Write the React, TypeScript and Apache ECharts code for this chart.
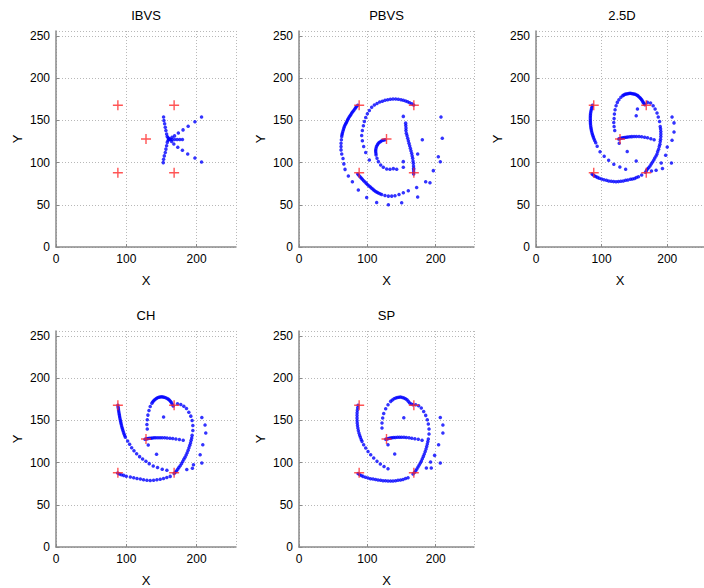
import React, { useEffect, useRef } from "react";
import * as echarts from "echarts";

const panelTitles = ["IBVS", "PBVS", "2.5D", "CH", "SP"];
const xTicks = [0, 100, 200];
const yTicks = [0, 50, 100, 150, 200, 250];

// target positions (red crosses)
const targetPts = [
  [88, 168], [168, 168], [128, 128], [88, 88], [168, 88],
];

const ibvsPts = [
  [153, 154], [153.5, 150], [154.5, 146], [155.4, 142], [156.3, 138], [157.3, 134], [158.2, 131], [159.5, 129.5],
  [152.5, 100], [153, 104], [154, 108], [155.4, 112], [156.3, 116], [157.3, 120], [158.2, 124], [159.5, 126.5],
  [207, 154], [197.6, 148.4], [188, 143], [180.7, 138.8], [174, 135], [168.6, 131.7], [165, 130],
  [207, 100.7], [197.6, 105.5], [187.3, 110.2], [179.8, 114.6], [173.2, 118.2], [167.6, 122], [164.5, 125],
  [179.8, 127.4], [176, 127.4], [172.3, 127.4], [168.6, 127.4], [164.8, 127.4], [162.5, 127.8], [161, 128.4], [160.5, 127.5],
];

const pbvsPts = [
  // left arc
  [86, 168], [84, 166.5], [82.9, 165.1], [81.5, 163.5], [80, 161.9], [78.5, 160.3], [77.1, 158.7], [75.9, 157.1],
  [74.7, 155.6], [73.4, 154], [72.2, 152.4], [71.2, 150.8], [70.3, 149.2], [69.3, 147.6], [68.3, 146], [67.3, 144.5],
  [66.4, 142.9], [65.6, 140.9], [64.9, 138.9], [64.1, 136.9], [63.4, 134.9], [62.9, 133], [62.5, 131], [62, 127],
  [61.5, 123], [61.5, 119], [61.5, 115.1], [62.5, 110.3], [64.4, 104.8], [65.6, 98.5], [67.3, 92], [72.2, 84.1],
  [78.1, 77.4], [86.8, 67.5], [99, 58.7], [113.6, 52.8], [130.7, 50],
  // top arc
  [167.7, 168.3], [165, 169.8], [161.9, 171], [159, 172.2], [156, 173], [152.6, 174], [149.2, 174.6], [145.3, 175.2],
  [141.4, 175.4], [137.5, 175.4], [133.6, 175], [129.7, 174.4], [125.8, 173.8], [121.9, 172.8], [118, 171.8],
  [114.1, 170.2], [110.2, 168.3], [106.3, 165.5], [102.9, 161.9], [100, 158], [97.6, 153.6], [95.6, 148.8],
  [94.2, 143.7], [92.7, 138], [91.7, 132.1], [92.7, 125.8], [94.6, 119], [97.6, 111.9], [102.9, 103.2],
  // centre spiral
  [125.8, 127], [123.4, 126.5], [121, 125.8], [119, 124.8], [117.1, 123.8], [115.6, 122.4], [114.6, 121], [113.3, 119],
  [112.7, 117], [112.2, 115], [112.2, 113.1], [112.5, 111], [112.7, 109.1], [114.1, 105.2], [116.1, 101.2],
  [119.5, 97.2], [123.4, 94.4], [128.3, 92.5], [133.1, 92.1], [138, 92.9], [142.9, 92.1],
  // right branch
  [167.7, 86.5], [167.7, 89], [167.7, 91.5], [167.7, 93.3], [167.5, 96], [167.3, 99.2], [166.8, 102], [166.3, 105.2],
  [165.5, 108], [164.8, 111.1], [163.8, 114], [162.9, 117], [161.9, 120], [160.9, 123], [160, 126], [159, 129],
  [158, 132], [157, 134.9], [156.5, 138], [156.5, 140.9], [156.2, 144], [156, 146.8], [152.6, 154.8],
  // bottom arc
  [85.9, 86.5], [87.5, 85], [89.3, 83.3], [91, 81.7], [92.7, 80.2], [94.6, 78.6], [96.6, 77], [98.5, 75.4],
  [100.5, 73.8], [102.5, 72.4], [104.4, 71], [106.3, 69.6], [108.3, 68.3], [110.2, 67], [112.2, 65.9], [114.2, 64.9],
  [116.1, 63.9], [118.5, 63], [121, 62.3], [125.8, 61.1], [130.7, 60.3], [135.6, 60.3], [140.4, 60.7], [146.3, 62.3],
  [152.6, 64.3], [159.9, 66.7], [172.1, 70.6], [185.3, 77.4], [191.6, 76.2], [196.5, 90.5],
  // isolated
  [207.7, 154], [209.6, 129], [203.8, 107], [206.7, 101], [180.4, 127], [173.6, 110.3], [152.6, 101.2],
  [152.6, 94.4], [173.6, 59.3], [150.2, 52.4],
];

const d25Pts = [
  [86, 168], [85.3, 166], [84.6, 164], [84, 162], [83.5, 160], [83.1, 158], [82.9, 156], [82.8, 154], [82.8, 152],
  [82.8, 150], [82.9, 148], [83, 146], [83.3, 144], [83.6, 142], [84, 140], [84.5, 138], [85.1, 136], [85.8, 134],
  [86.6, 132], [87.5, 130], [88.5, 128], [89.6, 126], [91, 123.5],
  [93.2, 119.5], [97.6, 113], [103.9, 107.6], [110.7, 102.8], [118.6, 98.1], [127.8, 94.9], [136.6, 92.1],
  [183, 91], [192.7, 93], [206.4, 99.6],
  [165.9, 168.7], [164.6, 170.1], [163.4, 171.4], [162.2, 173], [161, 174.6], [159.8, 175.8], [158.5, 177],
  [156.8, 178.2], [155.1, 179.4], [153.2, 180.2], [151.2, 181], [149.3, 181.4], [147.3, 181.7], [145.3, 181.9],
  [143.4, 182.1], [141.5, 181.9], [139.5, 181.7], [137.5, 181.4], [135.6, 181], [133.9, 180.2], [132.2, 179.4],
  [129.3, 177.4], [126.3, 174.6], [123.9, 171.4], [122, 167.5], [120.5, 162.7], [119.5, 157.5], [119, 152.4],
  [118.5, 147.6], [119, 142.9], [120, 138.1],
  [126.8, 123], [139, 113.1], [152.7, 102],
  [154.6, 163.5], [152.7, 155.6],
  [126, 128], [127.5, 128.4], [129, 128.8], [131, 129.2], [133, 129.5], [135, 129.8], [137.5, 130.1], [140, 130.4],
  [143, 130.6], [146, 130.8], [149.5, 130.9], [153, 131], [157, 130.9], [161, 130.6], [165.5, 130.1], [170, 129.4],
  [175, 128.4], [180, 127],
  [166.8, 88.5], [168.3, 90.5], [169.8, 92.5], [171.7, 94], [173.7, 96], [175.6, 98.4], [177.6, 100.8], [179.5, 103.2],
  [181, 105.6], [182.9, 107.9], [184.4, 110.3], [185.4, 113.1], [186.8, 115.9], [187.8, 119], [188.8, 121.8],
  [189.3, 125], [189.8, 127.8], [190.2, 131], [190.2, 134], [190.2, 136.9], [189.8, 140], [189.3, 142.9],
  [188.3, 148.8], [186.3, 154], [184.4, 158.7], [181.5, 163.5], [178.5, 167.5], [174.6, 170.6], [169.8, 171.4],
  [207.3, 154.2], [210.3, 147.1], [210.3, 136.4], [207.3, 126.6], [200, 118.6], [197.6, 108.8], [190.8, 99.6], [176, 90],
  [85.4, 86.5], [87, 85.5], [88.8, 84.5], [91, 83.5], [93.7, 82.5], [96.5, 81.5], [100, 80.6], [103.5, 79.8],
  [107.3, 79], [110.8, 78.3], [114.6, 77.8], [118.3, 77.5], [122, 77.4], [125.6, 77.5], [129.3, 77.8], [133, 78.3],
  [136.6, 79], [140, 79.5], [143.9, 80.2], [147, 80.7], [150.2, 81.3], [153, 82.3], [156.1, 83.3], [161, 85.3],
];

const chPts = [
  [88, 168], [88.3, 166], [88.7, 164], [89, 162], [89.4, 160], [89.8, 158], [90.2, 156], [90.6, 154], [91.1, 152],
  [91.6, 150], [92.1, 148], [92.6, 146], [93.2, 144], [93.8, 142], [94.5, 140], [95.2, 138], [96, 136], [96.8, 134],
  [97.7, 132], [98.7, 130],
  [101.9, 125.6], [104.7, 121.7], [107.6, 117.7], [110.9, 114.2], [114.7, 110.6], [118.9, 107.1], [123.2, 104.3],
  [127.9, 101.6], [132.6, 98.8], [138.3, 96.1], [144.4, 94.1], [151.1, 92.1], [157.7, 90.9],
  [166.7, 167], [165.5, 169], [164.3, 170.9], [163, 172.5], [161.5, 174], [160, 175], [158.2, 176], [156, 176.9],
  [153.9, 177.6], [152, 177.9], [150.1, 178], [148.2, 177.9], [146.3, 177.6], [144.4, 176.9], [142.6, 176],
  [140.8, 174.9], [139.2, 173.6], [137.7, 172.1], [136.4, 170.5], [134, 166.5], [132.2, 161.8], [130.7, 156.3],
  [129.8, 150.8], [129.3, 145.3], [129.8, 139.8],
  [131.2, 120.9], [143, 109.8], [153, 154],
  [126.5, 127.6], [128, 127.9], [129.5, 128.2], [131, 128.5], [133, 128.8], [135, 129], [137, 129.2], [139.5, 129.4],
  [142, 129.5], [145, 129.6], [148, 129.6], [151, 129.6], [154.5, 129.5], [158, 129.3], [162, 129], [166, 128.6],
  [170.5, 128], [175.5, 127.3], [180.9, 126.4],
  [168, 87], [169.6, 88.6], [171.4, 90.2], [173, 92.1], [174.7, 94.1], [176.6, 96.4], [178.5, 98.8], [180.2, 101.3],
  [181.8, 103.9], [183.5, 106.4], [185.1, 109], [186.5, 111.8], [187.9, 114.6], [189.1, 117.5], [190.3, 120.5],
  [191.3, 123.4], [192.2, 126.4], [193, 129.3], [193.6, 132.3], [194.6, 138.2], [194.6, 144.1], [193.6, 150],
  [191.7, 155.1], [188.9, 159.8], [185.6, 164.2], [181.8, 166.9], [177.5, 168.9], [172.8, 169.7],
  [207.4, 153.6], [212, 144.7], [213, 135], [208.8, 121.2], [205, 109.4], [207.4, 99.5], [195.5, 97.4], [194, 93.4], [186, 91.8],
  [87.7, 87.6], [90, 86.6], [93, 85.6], [96.2, 84.9], [100, 83.8], [105.7, 82.9], [110.5, 82], [115.2, 81.3],
  [120, 80.5], [124.5, 79.7], [129.3, 79.2], [134, 78.9], [138.8, 79.2], [143.5, 79.7], [148.2, 80.4], [152.9, 81.3],
  [157.6, 82.4], [162.4, 83.7],
];

const spPts = [
  [86.4, 168], [85.8, 165], [85.3, 162], [85, 159], [84.9, 156], [84.9, 153], [85, 150], [85.2, 147], [85.6, 144],
  [86.1, 141], [86.8, 138], [87.7, 135], [88.7, 132.5], [89.8, 130], [91, 127.5], [92.2, 125.2],
  [94.6, 121.2], [97.6, 117.3], [101, 113.3], [104.9, 109.4], [109.3, 105.4], [114.1, 101.5], [119, 98.3],
  [124.4, 95.5], [130.2, 92.8],
  [166.7, 168.6], [164.3, 169.5], [161.9, 170.6], [160, 172.6], [158, 174.5], [155.8, 175.6], [153.6, 176.5],
  [151.2, 177.2], [148.7, 177.7], [146.3, 177.6], [143.9, 177.3], [141.5, 176.6], [139, 175.7], [136.5, 174.3],
  [134.1, 172.6], [130.2, 168.6], [126.8, 163.9], [123.9, 158.3], [122.4, 152.8], [121.4, 146.9], [121.4, 141],
  [130.2, 121.2], [140, 110.1], [153.3, 153.2],
  [126.8, 127.6], [128.3, 128], [130, 128.4], [132, 128.8], [134, 129.1], [136, 129.4], [138.5, 129.7], [141, 129.9],
  [144, 130], [147, 130.1], [150, 130.1], [153.5, 130], [157, 129.8], [161, 129.4], [165, 129], [169.5, 128.4],
  [174.5, 127.7], [180, 126.6],
  [166.8, 86.5], [168.7, 88.4], [170.7, 90.4], [172.4, 92.5], [174.1, 94.7], [175.8, 97.1], [177.5, 99.5], [179, 102],
  [180.4, 104.6], [181.9, 107.4], [183.3, 110.2], [184.6, 113.1], [185.8, 116.1], [186.8, 119], [187.7, 122],
  [188.5, 125], [189.2, 127.9], [190.2, 133.8], [190.2, 139.8], [189.2, 145.7], [187.7, 150.8], [185.3, 156],
  [182.4, 160.7], [178.9, 164.7], [175, 167.4], [170.7, 168.6],
  [206.7, 153.6], [210.5, 144.7], [210.5, 135], [204.2, 121.2], [198.4, 108.6], [206.7, 99.5], [192.5, 100.7],
  [186.3, 93.6], [193.5, 93.6],
  [86.4, 87], [88.5, 86], [91, 84.8], [93.7, 83.7], [97.3, 82.7], [101, 81.7], [104.6, 81], [108.3, 80.5], [112, 79.9],
  [115.6, 79.4], [119.3, 79], [122.9, 78.6], [126.5, 78.4], [130.2, 78.2], [133.9, 78.2], [137.5, 78.2], [141.2, 78.6],
  [144.8, 79], [148.5, 79.5], [152.1, 80.1], [155.8, 81.1], [159.5, 82.1],
];

const panelPts = [ibvsPts, pbvsPts, d25Pts, chPts, spPts];

const FONT = "'Liberation Sans', Arial, sans-serif";
const CROSS = "path://M4.3,0H5.7V10H4.3ZM0,4.3H10V5.7H0Z";

// layout
const panelBoxes = [
  { left: 56, top: 31, width: 180, height: 216 },
  { left: 299, top: 31, width: 175, height: 216 },
  { left: 536, top: 31, width: 175, height: 216 },
  { left: 56, top: 331, width: 180, height: 216 },
  { left: 299, top: 331, width: 175, height: 216 },
];

export default function App() {
  const ref = useRef<HTMLDivElement>(null);
  useEffect(() => {
    if (!ref.current) return;
    const chart = echarts.init(ref.current, undefined, { renderer: "svg" });
    const grid = panelBoxes.map((b) => ({ ...b, containLabel: false }));
    const axisCommon = {
      min: 0,
      max: 256,
      axisLine: { show: true, onZero: false, lineStyle: { color: "#8a8a8a", width: 1.5 } },
      axisTick: { show: true, inside: true, length: 3, lineStyle: { color: "#8a8a8a" } },
      axisLabel: { color: "#000", fontSize: 12, fontFamily: FONT, margin: 6 },
      splitLine: { show: true, lineStyle: { color: "#b8b8b8", type: [1, 2], width: 1 } },
      nameLocation: "middle" as const,
      nameTextStyle: { color: "#000", fontSize: 13, fontFamily: FONT },
    };
    const xAxis = panelBoxes.map((_, i) => ({
      ...axisCommon,
      type: "value",
      gridIndex: i,
      interval: xTicks[1] - xTicks[0],
      name: "X",
      nameGap: 27,
      axisLabel: { ...axisCommon.axisLabel, showMaxLabel: false },
    }));
    const yAxis = panelBoxes.map((_, i) => ({
      ...axisCommon,
      type: "value",
      gridIndex: i,
      interval: yTicks[1] - yTicks[0],
      name: "Y",
      nameGap: 32,
      axisLabel: { ...axisCommon.axisLabel, showMaxLabel: false },
    }));
    const series: any[] = [];
    panelPts.forEach((pts, i) => {
      series.push({
        type: "scatter",
        xAxisIndex: i,
        yAxisIndex: i,
        data: pts,
        symbol: "circle",
        symbolSize: 3.5,
        itemStyle: { color: "#0000ff" },
        silent: true,
      });
      series.push({
        type: "scatter",
        xAxisIndex: i,
        yAxisIndex: i,
        data: targetPts,
        symbol: CROSS,
        symbolSize: 10,
        itemStyle: { color: "#ff2a2a", opacity: 0.8 },
        silent: true,
        z: 5,
      });
    });
    const graphic = panelBoxes.map((b, i) => ({
      type: "text",
      x: b.left + (i === 2 ? 86 : b.width / 2),
      y: b.top - 16,
      style: {
        text: panelTitles[i],
        fontSize: 13,
        fontFamily: FONT,
        fill: "#000",
        align: "center",
        verticalAlign: "middle",
      },
    }));
    chart.setOption({
      animation: false,
      backgroundColor: "#ffffff",
      grid,
      xAxis,
      yAxis,
      series,
      graphic,
    });
    return () => chart.dispose();
  }, []);
  return (
    <div
      ref={ref}
      style={{ position: "absolute", left: 0, top: 0, width: 704, height: 588 }}
    />
  );
}
